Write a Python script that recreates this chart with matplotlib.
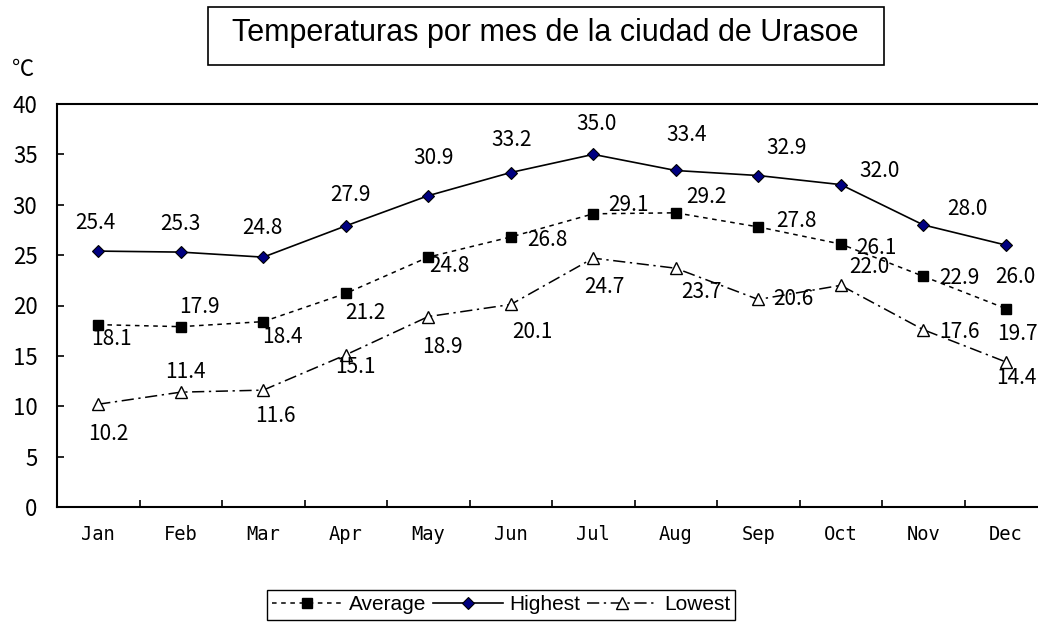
import matplotlib
matplotlib.use("Agg")
import matplotlib.pyplot as plt
from matplotlib.patches import Rectangle

# datos
meses = ["Jan", "Feb", "Mar", "Apr", "May", "Jun", "Jul", "Aug", "Sep", "Oct", "Nov", "Dec"]
promedio = [18.1, 17.9, 18.4, 21.2, 24.8, 26.8, 29.1, 29.2, 27.8, 26.1, 22.9, 19.7]
maxima = [25.4, 25.3, 24.8, 27.9, 30.9, 33.2, 35.0, 33.4, 32.9, 32.0, 28.0, 26.0]
minima = [10.2, 11.4, 11.6, 15.1, 18.9, 20.1, 24.7, 23.7, 20.6, 22.0, 17.6, 14.4]
titulo = "Temperaturas por mes de la ciudad de Urasoe"

# desplazamiento de las etiquetas (pixeles, dy positivo = hacia abajo)
off_prom = [(13, 14), (19, -20), (19, 15), (20, 20), (21, 9), (37, 3),
            (35, -9), (31, -16), (38, -6), (36, 4), (36, 2), (12, 25)]
off_max = [(-3, -28), (0, -28), (-1, -29), (5, -31), (5, -38), (1, -33),
           (3, -30), (11, -35), (28, -28), (39, -14), (44, -16), (10, 32)]
off_min = [(10, 30), (5, -20), (12, 26), (10, 12), (14, 30), (22, 28),
           (11, 29), (26, 24), (35, 0), (29, -18), (36, 2), (11, 16)]

NUM_FONT = ["Noto Sans CJK JP", "DejaVu Sans"]

W, H = 1038, 624
fig = plt.figure(figsize=(W / 100, H / 100), dpi=100)
ax = fig.add_axes([57 / W, (H - 507) / H, 990 / W, 403 / H])

x = list(range(len(meses)))
ax.plot(x, promedio, color="black", lw=1.1, dashes=(3, 3), marker="s", ms=6.5,
        mfc="black", mec="black", label="Average")
ax.plot(x, maxima, color="black", lw=1.2, marker="D", ms=6.5, mfc="#000080",
        mec="black", mew=0.8, label="Highest")
ax.plot(x, minima, color="black", lw=1.1, dashes=(8, 3, 1.5, 3), marker="^", ms=8.5,
        mfc="white", mec="black", mew=1, label="Lowest")


def etiquetas(valores, offs):
    for i, (v, (dx, dy)) in enumerate(zip(valores, offs)):
        ax.annotate(f"{v:.1f}", (i, v), xytext=(dx, -dy), textcoords="offset pixels",
                    ha="center", va="center", fontsize=15, family=NUM_FONT)


etiquetas(promedio, off_prom)
etiquetas(maxima, off_max)
etiquetas(minima, off_min)

ax.set_xlim(-0.5, 11.5)
ax.set_ylim(0, 40)
ax.set_yticks(range(0, 41, 5))
for lbl in ax.get_yticklabels():
    lbl.set_family(NUM_FONT)
ax.tick_params(axis="y", direction="in", length=5, width=1.2, pad=14, labelsize=16)

ax.set_xticks(x)
ax.set_xticklabels(meses, fontsize=13.5, family="DejaVu Sans Mono")
ax.set_xticks([i + 0.5 for i in range(11)], minor=True)
ax.tick_params(axis="x", which="major", length=0, pad=13)
ax.tick_params(axis="x", which="minor", direction="in", length=5, width=1.2)

for lado in ["left", "bottom", "top"]:
    ax.spines[lado].set_linewidth(1.5)
ax.spines["right"].set_visible(False)

# titulo con recuadro
fig.add_artist(Rectangle((208 / W, 1 - 65 / H), 676 / W, 58 / H, transform=fig.transFigure,
                         fill=False, ec="black", lw=1.2))
fig.text(232 / W, 1 - 33 / H, titulo, ha="left", va="center", fontsize=22,
         family="Liberation Sans")
fig.text(23 / W, 1 - 69 / H, "℃", ha="center", va="center", fontsize=16, family=NUM_FONT)

leg = fig.legend(loc="center", bbox_to_anchor=(501 / W, 1 - 605 / H), ncol=3,
                 fancybox=False, edgecolor="black", framealpha=1,
                 prop={"family": "Liberation Sans", "size": 15},
                 handlelength=3.4, handletextpad=0.3, columnspacing=0.3,
                 borderpad=0.25, borderaxespad=0)
leg.get_frame().set_linewidth(1)

fig.savefig("out.png", dpi=100)
